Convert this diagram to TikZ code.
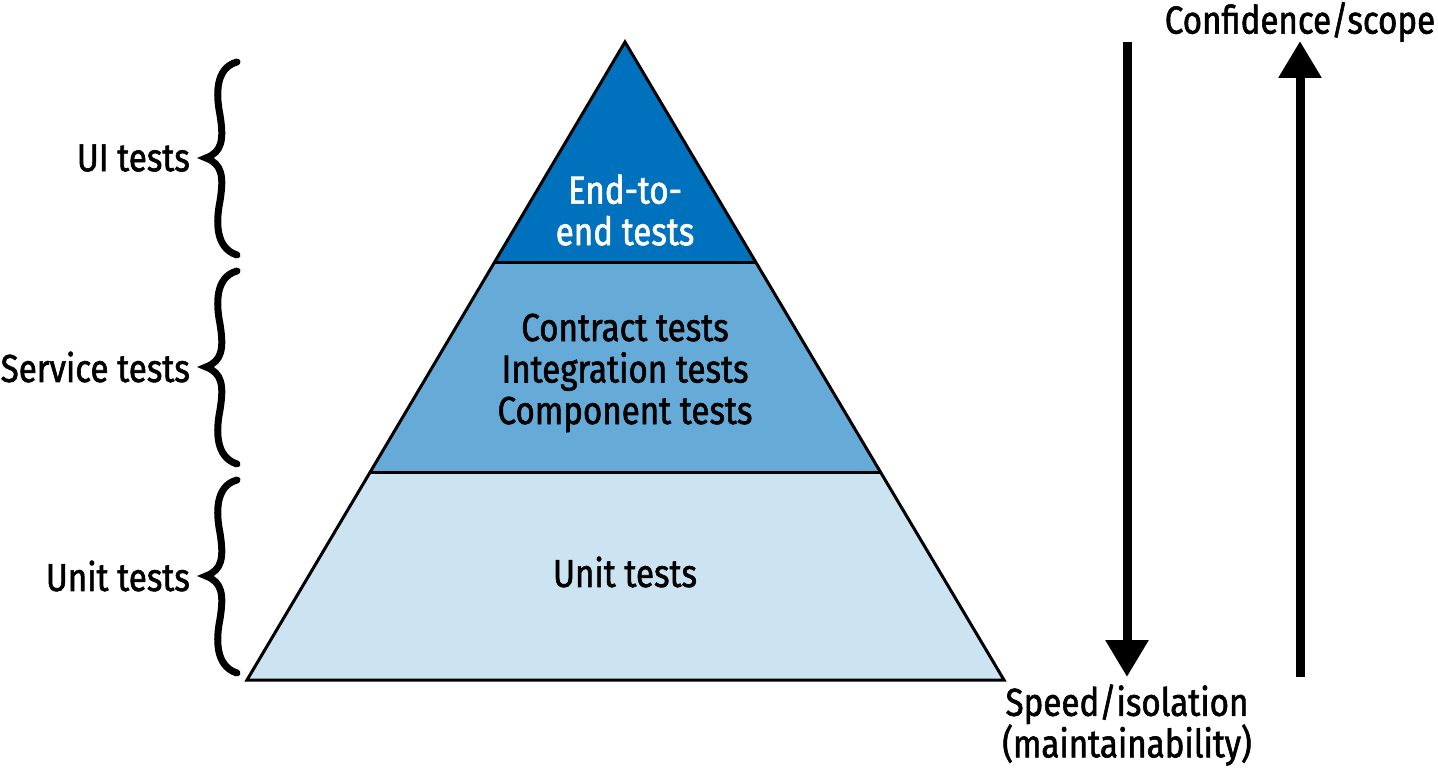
\documentclass[tikz,border=0pt]{standalone}
\usepackage{fontspec}
\setmainfont{Fira Sans}[FakeStretch=0.85, FakeBold=1.5]
\usetikzlibrary{arrows.meta}
\definecolor{darkband}{HTML}{0071BC}
\definecolor{midband}{HTML}{66ABD8}
\definecolor{lightband}{HTML}{CCE3F1}
\begin{document}
\begin{tikzpicture}[x=1pt,y=-1pt,
  lbl/.style={font=\fontsize{39}{41.5}\selectfont, inner sep=0pt, align=center},
  sidelbl/.style={lbl, anchor=east},
  bracestyle/.style={line width=7pt, line cap=round, line join=miter},
  band/.style={draw=none},
  bigarrow/.style={line width=9pt, -{Triangle[width=41pt,length=37pt]}},
  mybrace/.pic={\draw[bracestyle] (31,-96) .. controls (9,-90) and (10,-63) .. (14,-43) .. controls (18,-18) and (16,-6) .. (0,0) .. controls (16,6) and (18,18) .. (14,43) .. controls (10,63) and (9,90) .. (31,97);}
]
\useasboundingbox (0,0) rectangle (1438,770);
% pyramid corners
\coordinate (apex) at (625,42);
\coordinate (bl) at (247,680);
\coordinate (br) at (1004,680);
\coordinate (l1) at (494.1,263);
\coordinate (r1) at (756.3,263);
\coordinate (l2) at (370.2,472);
\coordinate (r2) at (880.4,472);
\fill[darkband] (apex) -- (l1) -- (r1) -- cycle;
\fill[midband] (l1) -- (l2) -- (r2) -- (r1) -- cycle;
\fill[lightband] (l2) -- (bl) -- (br) -- (r2) -- cycle;
\draw[line width=3pt] (l1) -- (r1) (l2) -- (r2);
\draw[line width=3pt, line join=miter] (apex) -- (bl) -- (br) -- cycle;
% band texts
\node[lbl, text=white] (e2e) at (625,210) {End-to-\\end tests};
\node[lbl] (svc) at (625,373) {Contract tests\\Integration tests\\Component tests};
\node[lbl] (unit) at (625,572) {Unit tests};
% braces
\pic (b1) at (206,158) {mybrace};
\pic (b2) at (206,367) {mybrace};
\pic (b3) at (206,576) {mybrace};
\node[sidelbl] (ui) at (190,158) {UI tests};
\node[sidelbl] (service) at (190,367) {Service tests};
\node[sidelbl] (unitl) at (190,576) {Unit tests};
% arrows
\coordinate (dtop) at (1127,42);
\coordinate (dbot) at (1127,677);
\coordinate (ubot) at (1300,677);
\coordinate (utop) at (1300,41);
\draw[bigarrow] (dtop) -- (dbot);
\draw[bigarrow] (ubot) -- (utop);
\node[lbl] (conf) at (1300,22) {Confidence/scope};
\node[lbl] (speed) at (1127,725) {Speed/isolation\\(maintainability)};
\end{tikzpicture}
\end{document}
